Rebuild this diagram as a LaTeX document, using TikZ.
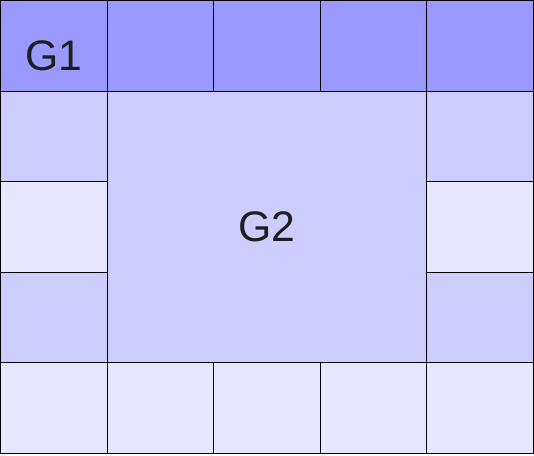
\documentclass[tikz,border=0pt]{standalone}
\usepackage{fontspec}
\setmainfont{Liberation Sans}
\definecolor{topc}{HTML}{9999FF}
\definecolor{midc}{HTML}{CCCCFF}
\definecolor{lightc}{HTML}{E6E6FF}
\definecolor{txtc}{HTML}{1E1E1E}
\begin{document}
\begin{tikzpicture}[x=1pt,y=-1pt,
  cell/.style={draw=black,line width=1pt,rectangle,inner sep=0pt,outer sep=0pt,anchor=north west,minimum width=106.6pt,minimum height=90.6pt},
  big/.style={draw=black,line width=1pt,rectangle,inner sep=0pt,outer sep=0pt,anchor=north west,minimum width=319.8pt,minimum height=271.8pt,fill=midc},
  lbl/.style={font=\fontsize{42.7}{50}\selectfont,text=txtc,inner sep=0pt}]
\useasboundingbox (0,0) rectangle (534,455);
% top row
\foreach \c in {0,...,4}{
  \node[cell,fill=topc] (t\c) at ({0.5+106.6*\c},0.5) {};
}
% bottom row
\foreach \c in {0,...,4}{
  \node[cell,fill=lightc] (b\c) at ({0.5+106.6*\c},{0.5+4*90.6}) {};
}
% side cells
\node[cell,fill=midc] (l1) at (0.5,{0.5+90.6}) {};
\node[cell,fill=lightc] (l2) at (0.5,{0.5+2*90.6}) {};
\node[cell,fill=midc] (l3) at (0.5,{0.5+3*90.6}) {};
\node[cell,fill=midc] (r1) at ({0.5+4*106.6},{0.5+90.6}) {};
\node[cell,fill=lightc] (r2) at ({0.5+4*106.6},{0.5+2*90.6}) {};
\node[cell,fill=midc] (r3) at ({0.5+4*106.6},{0.5+3*90.6}) {};
% center
\node[big] (g2) at ({0.5+106.6},{0.5+90.6}) {};
\node[lbl] (g2t) at (g2.center) {G2};
\node[lbl] (g1t) at (53.8,56) {G1};
\end{tikzpicture}
\end{document}
